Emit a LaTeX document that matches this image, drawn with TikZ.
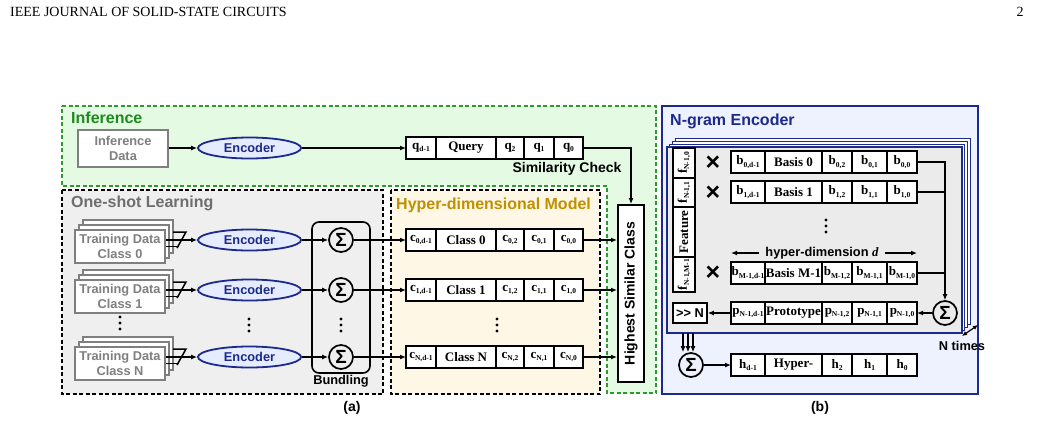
\documentclass[tikz,border=0pt]{standalone}
\usepackage{fontspec}
\setmainfont{Liberation Serif}
\setsansfont{Liberation Sans}
\usetikzlibrary{arrows.meta,positioning,shapes.geometric}
\definecolor{infgreen}{HTML}{E4FAE2}
\definecolor{infedge}{HTML}{2E9A2E}
\definecolor{inftext}{HTML}{1E8A1E}
\definecolor{oneshot}{HTML}{EFEFEF}
\definecolor{oneshottext}{HTML}{6E6E6E}
\definecolor{hdmfill}{HTML}{FFF7E6}
\definecolor{hdmtext}{HTML}{BF9000}
\definecolor{navy}{HTML}{1C2A8C}
\definecolor{ngramfill}{HTML}{EEF2FE}
\definecolor{framefill}{HTML}{EBEBEB}
\definecolor{encfill}{HTML}{E6ECFF}
\definecolor{datagray}{HTML}{7F7F7F}

\newcommand{\cellsub}[1]{\raisebox{-2.2pt}{\fontsize{7.5}{8}\selectfont #1}}
% one hyper-dimensional vector: name, west point, widths, five cells
\newcommand{\hvrow}[8]{%
    \node[cell,#3-1,anchor=west] (#1-1) at (#2) {#4};
    \node[cell,#3-2,right=0pt of #1-1] (#1-2) {#5};
    \node[cell,#3-3,right=0pt of #1-2] (#1-3) {#6};
    \node[cell,#3-4,right=0pt of #1-3] (#1-4) {#7};
    \node[cell,#3-5,right=0pt of #1-4] (#1-5) {#8};
    \draw[line width=2pt] (#1-1.north west) rectangle (#1-5.south east);
}
\newcommand{\vdotsat}[1]{%
    \foreach \d in {-6,0,6}
        \fill[shift={(#1)}] (0,\d) circle (1.7pt);
}

\tikzset{
    arrow/.style={
        -{Latex[length=6pt,width=5pt]},
        line width=1.5pt
    },
    link/.style={
        line width=1.5pt
    },
    region/.style={
        dash pattern=on 4pt off 2.5pt,
        line width=1.3pt
    },
    title/.style={
        font=\sffamily\bfseries\fontsize{16}{18}\selectfont,
        anchor=west,
        inner sep=0pt
    },
    label/.style={
        font=\sffamily\bfseries\fontsize{12.8}{15}\selectfont,
        inner sep=1pt
    },
    encoder/.style={
        ellipse,
        draw=navy,
        fill=encfill,
        line width=1.8pt,
        minimum width=103pt,
        minimum height=21pt,
        inner sep=0pt,
        text=navy,
        font=\sffamily\bfseries\fontsize{12.8}{15}\selectfont
    },
    datanode/.style={
        draw=datagray,
        fill=white,
        line width=2pt,
        minimum width=90pt,
        minimum height=33pt,
        inner sep=0pt,
        align=center,
        text=datagray,
        font=\sffamily\bfseries\fontsize{12.8}{15}\selectfont
    },
    sheet/.style={
        draw=datagray,
        fill=white,
        line width=2pt
    },
    cell/.style={
        draw,
        fill=white,
        line width=1.4pt,
        minimum height=22pt,
        inner sep=0.5pt,
        outer sep=0pt,
        font=\bfseries\fontsize{13}{14}\selectfont
    },
    wa-1/.style={minimum width=30pt},
    wa-2/.style={minimum width=60pt},
    wa-3/.style={minimum width=28pt},
    wa-4/.style={minimum width=30pt},
    wa-5/.style={minimum width=29pt},
    wb-1/.style={minimum width=34pt},
    wb-2/.style={minimum width=57pt},
    wb-3/.style={minimum width=30pt},
    wb-4/.style={minimum width=35pt},
    wb-5/.style={minimum width=30pt},
    featcell/.style={
        draw,
        fill=white,
        line width=1.4pt,
        minimum width=22pt,
        inner sep=0pt,
        outer sep=0pt,
        font=\bfseries\fontsize{13}{14}\selectfont
    },
    sigma/.style={
        circle,
        draw,
        line width=1.7pt,
        minimum size=24pt,
        inner sep=0pt,
        font=\sffamily\bfseries\fontsize{19}{19}\selectfont
    },
    times/.style={
        font=\sffamily\bfseries\fontsize{25}{25}\selectfont,
        inner sep=0pt
    }
}

\begin{document}
\begin{tikzpicture}[x=1pt,y=-1pt]

    \useasboundingbox (0,0) rectangle (1041,423);

    % Page header
    \node[anchor=west, inner sep=0pt, font=\fontsize{14}{15}\selectfont]
        (header) at (10,12) {IEEE JOURNAL OF SOLID-STATE CIRCUITS};
    \node[inner sep=0pt, font=\fontsize{14}{15}\selectfont]
        (pageno) at (1020,12) {2};

    % Regions of (a)
    \draw[region, draw=infedge, fill=infgreen]
        (62,106) -- (656,106) -- (656,393) -- (607,393)
        -- (607,186) -- (62,186) -- cycle;
    \draw[region, fill=oneshot]
        (62,190) rectangle (383,394);
    \draw[region, fill=hdmfill]
        (391,190) rectangle (600,394);

    \node[title, text=inftext] (tinf) at (71,118) {Inference};
    \node[title, text=oneshottext] (tone) at (71,203) {One-shot Learning};
    \node[title, text=hdmtext] (thdm) at (396,205) {Hyper-dimensional Model};

    % Inference path
    \node[datanode, minimum height=37pt] (infdata) at (123,148) {Inference\\Data};
    \node[encoder] (encI) at (249.5,148) {Encoder};
    \hvrow{q}{406,148}{wa}{q\cellsub{d-1}}{Query}{q\cellsub{2}}{q\cellsub{1}}{q\cellsub{0}}
    \node[label, font=\sffamily\bfseries\fontsize{14}{16}\selectfont]
        (simchk) at (567,169) {Similarity Check};

    \node[
        draw,
        fill=white,
        line width=2pt,
        minimum width=26pt,
        minimum height=177pt,
        inner sep=0pt,
        font=\sffamily\bfseries\fontsize{14}{16}\selectfont
    ] (hsc) at (631,293.5) {\rotatebox{90}{Highest Similar Class}};

    \draw[arrow] (infdata) -- (encI);
    \draw[arrow] (encI) -- (q-1);
    \draw[arrow] (q-5.east) -| (hsc.north);

    % Bundling
    \node[
        draw,
        rounded corners=7pt,
        line width=1.6pt,
        minimum width=58pt,
        minimum height=151pt
    ] (bundle) at (341,297.5) {};
    \node[label, below=0pt of bundle] (tbundle) {Bundling};

    % One-shot learning rows
    \foreach \n/\y in {0/240, 1/290, N/357} {
        \foreach \k in {2,1}
            \draw[sheet] ({75+4*\k},{\y-10-5*\k}) rectangle ++(90,33);
        \node[datanode] (td\n) at (120,\y+6.5) {Training Data\\Class \n};
        \node[encoder] (enc\n) at (249.5,\y) {Encoder};
        \node[sigma] (sum\n) at (341,\y) {Σ};
        \hvrow{c\n}{406,\y}{wa}{c\cellsub{\n,d-1}}{Class \n}{c\cellsub{\n,2}}{c\cellsub{\n,1}}{c\cellsub{\n,0}}
        \draw[link] (173,\y-8) -- (186,\y-8) -- (177,\y+8);
        \draw[link] (td\n.east) -- ++(13,0);
        \draw[arrow] (td\n.east |- enc\n.west) -- (enc\n.west);
        \draw[arrow] (enc\n) -- (sum\n);
        \draw[arrow] (sum\n) -- (c\n-1);
        \draw[arrow] (c\n-5.east) -- (c\n-5.east -| hsc.west);
    }

    \vdotsat{120,323}
    \vdotsat{249,325}
    \vdotsat{341,325}
    \vdotsat{497,325}

    % N-gram encoder (b)
    \draw[draw=navy, fill=ngramfill, line width=1.5pt]
        (662,106) rectangle (978,394);
    \node[title, text=navy] (tngram) at (670,121) {N-gram Encoder};

    \foreach \k in {3,2,1}
        \draw[draw=navy, fill=white, line width=1.1pt]
            ({667+2.7*\k},{147-2.7*\k}) rectangle ++(295,186);
    \node[
        draw=navy,
        fill=framefill,
        line width=1.2pt,
        minimum width=295pt,
        minimum height=186pt,
        inner sep=0pt
    ] (frame) at (814.5,240) {};

    % Feature column
    \node[featcell, minimum height=30pt] (f0) at (684,163) {\rotatebox{90}{f\cellsub{N-1,0}}};
    \node[featcell, minimum height=29pt, below=0pt of f0] (f1) {\rotatebox{90}{f\cellsub{N-1,1}}};
    \node[featcell, minimum height=50pt, below=0pt of f1] (feat) {\rotatebox{90}{Feature}};
    \node[featcell, minimum height=35pt, below=0pt of feat] (fm) {\rotatebox{90}{f\cellsub{N-1,M-1}}};
    \draw[line width=2pt] (f0.north west) rectangle (fm.south east);

    \node[times] (x0) at (713,163) {×};
    \node[times] (x1) at (713,193) {×};
    \node[times] (xm) at (713,273) {×};

    % Basis vectors
    \hvrow{b0}{731,162}{wb}{b\cellsub{0,d-1}}{Basis 0}{b\cellsub{0,2}}{b\cellsub{0,1}}{b\cellsub{0,0}}
    \hvrow{b1}{731,192}{wb}{b\cellsub{1,d-1}}{Basis 1}{b\cellsub{1,2}}{b\cellsub{1,1}}{b\cellsub{1,0}}
    \hvrow{bm}{731,273}{wb}{b\cellsub{M-1,d-1}}{Basis M-1}{b\cellsub{M-1,2}}{b\cellsub{M-1,1}}{b\cellsub{M-1,0}}
    \hvrow{p}{731,313}{wb}{p\cellsub{N-1,d-1}}{Prototype}{p\cellsub{N-1,2}}{p\cellsub{N-1,1}}{p\cellsub{N-1,0}}
    \vdotsat{826,226}

    % hyper-dimension
    \node[label, inner sep=6pt] (hdim) at (822,253)
        {hyper-dimension {\rmfamily\bfseries\itshape d}};
    \coordinate (hdl) at (731,253);
    \coordinate (hdr) at (917,253);
    \draw[arrow, line width=1.3pt] (hdim.west) -- (hdl);
    \draw[arrow, line width=1.3pt] (hdim.east) -- (hdr);

    \node[sigma] (sumb) at (945,313) {Σ};
    \node[
        draw,
        fill=white,
        line width=1.6pt,
        minimum width=34pt,
        minimum height=20pt,
        inner sep=0pt,
        font=\sffamily\bfseries\fontsize{12.8}{15}\selectfont
    ] (shiftn) at (690,313) {>{}> N};

    \draw[arrow] (b0-5.east) -| (sumb.north);
    \draw[link] (b1-5.east) -- (b1-5.east -| sumb.north);
    \draw[link] (bm-5.east) -- (bm-5.east -| sumb.north);
    \draw[arrow] (sumb) -- (p-5);
    \draw[arrow] (p-1) -- (shiftn);

    % N times
    \coordinate (nt1) at (962,336);
    \coordinate (nt2) at (978,325);
    \draw[{Latex[length=5pt,width=4.5pt]}-{Latex[length=5pt,width=4.5pt]}, line width=1.2pt]
        (nt1) -- (nt2);
    \node[label] (ntimes) at (962,346) {N times};

    % Accumulation
    \node[sigma] (sumh) at (691,365) {Σ};
    \hvrow{h}{731,365}{wb}{h\cellsub{d-1}}{Hyper-}{h\cellsub{2}}{h\cellsub{1}}{h\cellsub{0}}
    \coordinate (t1) at (683,333);
    \coordinate (t2) at (688,333);
    \coordinate (t3) at (693,333);
    \foreach \t in {t1,t2,t3}
        \draw[arrow, line width=1.3pt] (\t) -- (\t |- sumh.north);
    \draw[arrow] (sumh) -- (h-1);

    % Captions
    \node[label, font=\sffamily\bfseries\fontsize{14}{16}\selectfont] (capa) at (352,408) {(a)};
    \node[label, font=\sffamily\bfseries\fontsize{14}{16}\selectfont] (capb) at (820,408) {(b)};

\end{tikzpicture}
\end{document}
